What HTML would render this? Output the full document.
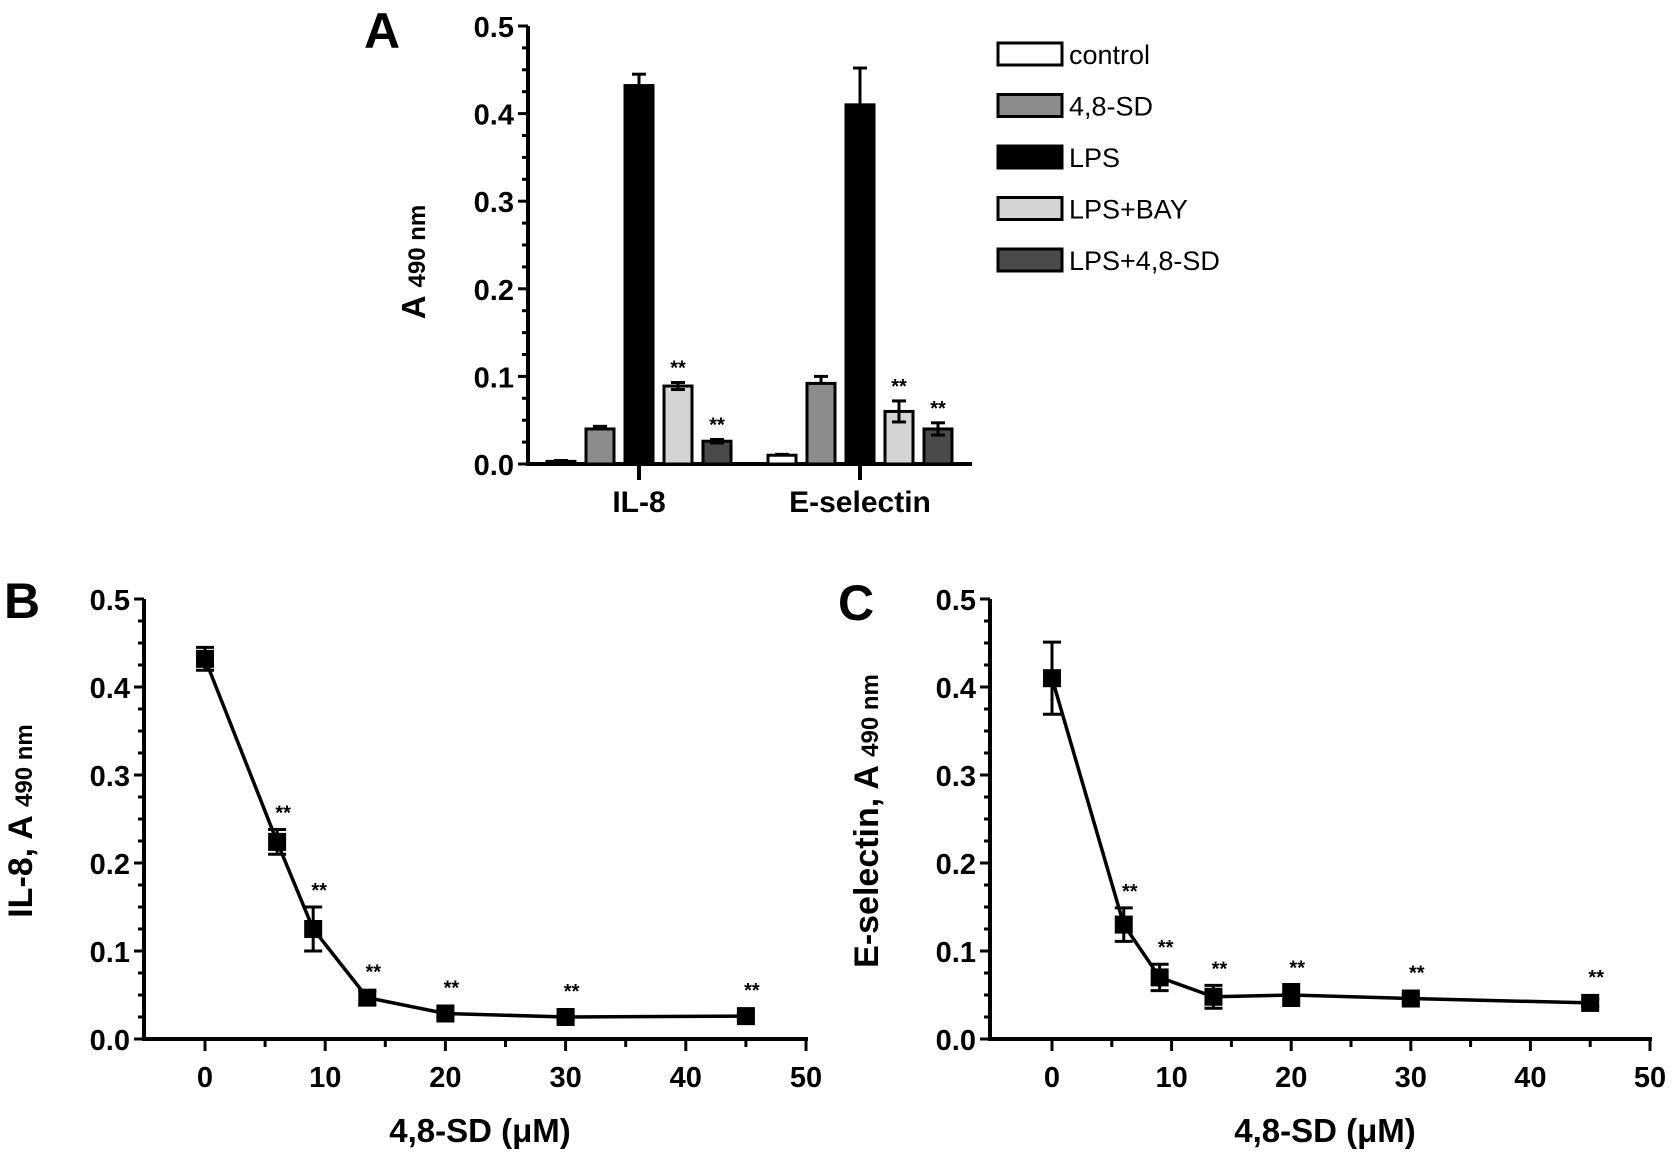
<!DOCTYPE html>
<html><head><meta charset="utf-8"><style>
html,body{margin:0;padding:0;background:#fff}
svg{display:block}
text{font-family:"Liberation Sans",sans-serif;font-weight:bold;fill:#000}
text.norm{font-weight:normal}
</style></head><body>
<svg id="fig" width="1677" height="1160" viewBox="0 0 1677 1160">
<text x="364" y="48" font-size="50">A</text>
<text x="4" y="618" font-size="50">B</text>
<text x="838" y="620" font-size="50">C</text>
<g id="pa"></g>
<g id="pb"></g>
<g id="pc"></g>
</svg>
<script>
// Panel A data
const groupsA = ["IL-8", "E-selectin"];
const seriesA = ["control", "4,8-SD", "LPS", "LPS+BAY", "LPS+4,8-SD"];
const colorsA = ["#ffffff", "#8c8c8c", "#000000", "#d4d4d4", "#4a4a4a"];
const il8Means = [0.003, 0.040, 0.432, 0.089, 0.026];
const il8Errs = [0.001, 0.003, 0.013, 0.004, 0.002];
const eselMeans = [0.010, 0.092, 0.410, 0.060, 0.040];
const eselErrs = [0.001, 0.008, 0.042, 0.012, 0.007];
const il8Stars = [false, false, false, true, true];
const eselStars = [false, false, false, true, true];
const yTicksA = ["0.0", "0.1", "0.2", "0.3", "0.4", "0.5"];
// Panels B/C data
const doses = [0, 6, 9, 13.5, 20, 30, 45];
const il8Dose = [0.432, 0.224, 0.125, 0.047, 0.029, 0.025, 0.026];
const il8DoseErr = [0.013, 0.014, 0.025, 0.008, 0.004, 0.004, 0.004];
const eselDose = [0.410, 0.130, 0.070, 0.048, 0.050, 0.046, 0.041];
const eselDoseErr = [0.041, 0.019, 0.015, 0.013, 0.012, 0.005, 0.004];
const xTicksBC = ["0", "10", "20", "30", "40", "50"];

const NS = "http://www.w3.org/2000/svg";
function mk(parent, tag, attrs, txt) {
  const e = document.createElementNS(NS, tag);
  for (const k in attrs) e.setAttribute(k, attrs[k]);
  if (txt !== undefined) e.textContent = txt;
  parent.appendChild(e);
  return e;
}

/* ---------- Panel A ---------- */
(function(){
  const g = document.getElementById('pa');
  const x0 = 528, y0 = 464, yTop = 26, xEnd = 972;
  const ys = v => y0 - (v / 0.5) * (y0 - yTop);
  let e = mk(g, 'line', {x1:x0, y1:yTop, x2:x0, y2:y0, stroke:'#000', 'stroke-width':4});
   
  e = mk(g, 'line', {x1:x0-2, y1:y0, x2:xEnd, y2:y0, stroke:'#000', 'stroke-width':4});
   
  for (let i = 0; i <= 20; i++) {
    const v = i * 0.025, y = ys(v), major = i % 4 === 0;
    mk(g, 'line', {x1:x0 - (major ? 10 : 6), y1:y, x2:x0, y2:y, stroke:'#000', 'stroke-width':3});
  }
  yTicksA.forEach((t, i) => {
    e = mk(g, 'text', {x:x0 - 14, y:ys(parseFloat(t)) + 11, 'font-size':29, 'text-anchor':'end'}, t);
     
  });
  e = mk(g, 'text', {transform:'translate(425,262) rotate(-90)', 'font-size':33, 'text-anchor':'middle'});
   
  mk(e, 'tspan', {}, 'A ');
  mk(e, 'tspan', {'font-size':24}, '490 nm');
  const groupStart = [547, 768], step = 39, bw = 28;
  const means = [il8Means, eselMeans], errs = [il8Errs, eselErrs], stars = [il8Stars, eselStars];
  groupsA.forEach((gn, gi) => {
    const center = groupStart[gi] + 2 * step + bw / 2;
    mk(g, 'line', {x1:center, y1:y0, x2:center, y2:y0 + 16, stroke:'#000', 'stroke-width':4});
    e = mk(g, 'text', {x:center, y:512, 'font-size':30, 'text-anchor':'middle'}, gn);
     
    seriesA.forEach((s, si) => {
      const v = means[gi][si], er = errs[gi][si];
      const x = groupStart[gi] + si * step;
      const top = ys(v);
      const b = mk(g, 'rect', {x:x, y:top, width:bw, height:Math.max(y0 - top, 1), fill:colorsA[si], stroke:'#000', 'stroke-width':3});
      
      
      const cx = x + bw / 2, ye = ys(v + er);
      mk(g, 'line', {x1:cx, y1:top, x2:cx, y2:ye, stroke:'#000', 'stroke-width':3});
      mk(g, 'line', {x1:cx - 7, y1:ye, x2:cx + 7, y2:ye, stroke:'#000', 'stroke-width':3});
      if (si === 3 || si === 4) {
        const yl = ys(v - er);
        mk(g, 'line', {x1:cx - 7, y1:yl, x2:cx + 7, y2:yl, stroke:'#000', 'stroke-width':3});
        mk(g, 'line', {x1:cx, y1:top, x2:cx, y2:yl, stroke:'#000', 'stroke-width':3});
      }
      if (stars[gi][si]) {
        const st = mk(g, 'text', {x:cx, y:ye - 8, 'font-size':20, 'text-anchor':'middle'}, '**');
         
      }
    });
  });
  // legend
  seriesA.forEach((s, si) => {
    const y = 54 + si * 51.5;
    const r = mk(g, 'rect', {x:998, y:y - 11, width:64, height:22, fill:colorsA[si], stroke:'#000', 'stroke-width':3});
     
    const t = mk(g, 'text', {x:1069, y:y + 10, 'font-size':27, class:'norm'}, s);
     
  });
})();

/* ---------- Panels B, C ---------- */
function dosePanel(id, ax, x0v, x50, means, errs, title) {
  const g = document.getElementById(id);
  const y0 = 1039, yTop = 599;
  const ys = v => y0 - (v / 0.5) * (y0 - yTop);
  const xs = d => x0v + d / 50 * (x50 - x0v);
  let e = mk(g, 'line', {x1:ax, y1:yTop, x2:ax, y2:y0, stroke:'#000', 'stroke-width':4});
   
  e = mk(g, 'line', {x1:ax - 2, y1:y0, x2:x50 + 2, y2:y0, stroke:'#000', 'stroke-width':4});
   
  for (let i = 0; i <= 20; i++) {
    const y = ys(i * 0.025), major = i % 4 === 0;
    mk(g, 'line', {x1:ax - (major ? 10 : 6), y1:y, x2:ax, y2:y, stroke:'#000', 'stroke-width':3});
  }
  yTicksA.forEach(t => {
    e = mk(g, 'text', {x:ax - 14, y:ys(parseFloat(t)) + 11, 'font-size':29, 'text-anchor':'end'}, t);
     
  });
  for (let d = 0; d <= 50; d += 5) {
    const major = d % 10 === 0;
    mk(g, 'line', {x1:xs(d), y1:y0, x2:xs(d), y2:y0 + (major ? 12 : 8), stroke:'#000', 'stroke-width':3});
  }
  xTicksBC.forEach(t => {
    e = mk(g, 'text', {x:xs(parseFloat(t)), y:1087, 'font-size':29, 'text-anchor':'middle'}, t);
     
  });
  e = mk(g, 'text', {x:(ax + x50) / 2 + 5, y:1142, 'font-size':33, 'text-anchor':'middle'}, '4,8-SD (\u03bcM)');
   
  e = mk(g, 'text', {transform:'translate(' + (ax - 112) + ',821) rotate(-90)', 'font-size':34, 'text-anchor':'middle'});
   
  mk(e, 'tspan', {}, title + ' ');
  mk(e, 'tspan', {'font-size':24}, '490 nm');
  const pts = doses.map((d, i) => xs(d) + ',' + ys(means[i])).join(' ');
  e = mk(g, 'polyline', {points:pts, fill:'none', stroke:'#000', 'stroke-width':3.5});
   
  doses.forEach((d, i) => {
    const cx = xs(d), cy = ys(means[i]);
    const yh = ys(means[i] + errs[i]), yl = ys(means[i] - errs[i]);
    mk(g, 'line', {x1:cx, y1:yh, x2:cx, y2:yl, stroke:'#000', 'stroke-width':3});
    mk(g, 'line', {x1:cx - 9, y1:yh, x2:cx + 9, y2:yh, stroke:'#000', 'stroke-width':3});
    mk(g, 'line', {x1:cx - 9, y1:yl, x2:cx + 9, y2:yl, stroke:'#000', 'stroke-width':3});
    const m = mk(g, 'rect', {x:cx - 9, y:cy - 9, width:18, height:18, fill:'#000'});
     
    if (i > 0) {
      const st = mk(g, 'text', {x:cx + 6, y:Math.min(yh, cy - 9) - 10, 'font-size':20, 'text-anchor':'middle'}, '**');
       
    }
  });
}
dosePanel('pb', 144, 205, 806, il8Dose, il8DoseErr, 'IL-8, A');
dosePanel('pc', 990, 1052, 1650, eselDose, eselDoseErr, 'E-selectin, A');
</script>
</body></html>
